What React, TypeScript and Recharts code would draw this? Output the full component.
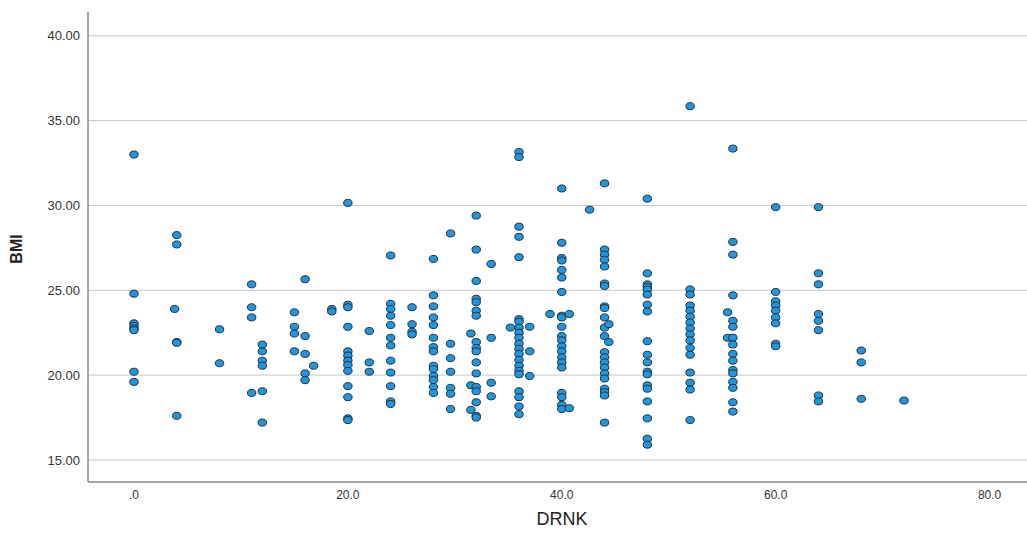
import React from 'react';
import { ScatterChart, Scatter, XAxis, YAxis, ReferenceLine } from 'recharts';

// BMI readings grouped by DRNK value
const bmiAt0 = [33.0, 24.8, 23.05, 22.9, 22.75, 22.65, 20.2, 19.6];
const bmiAt3_8 = [23.9];
const bmiAt4 = [28.25, 27.7, 21.95, 21.9, 17.6];
const bmiAt8 = [22.7, 20.7];
const bmiAt11 = [25.35, 24.0, 23.4, 18.95];
const bmiAt12 = [21.8, 21.4, 20.85, 20.55, 19.05, 17.2];
const bmiAt15 = [23.7, 22.85, 22.45, 21.4];
const bmiAt16 = [25.65, 22.3, 21.25, 20.1, 19.7];
const bmiAt16_8 = [20.55];
const bmiAt18_5 = [23.9, 23.75];
const bmiAt20 = [30.15, 24.15, 24.0, 22.85, 21.4, 21.15, 20.85, 20.6, 20.25, 19.35, 18.7, 17.45, 17.35];
const bmiAt22 = [22.6, 20.75, 20.2];
const bmiAt24 = [27.05, 24.2, 23.9, 23.5, 22.95, 22.2, 21.75, 20.85, 20.15, 19.35, 18.45, 18.3];
const bmiAt26 = [24.0, 23.0, 22.55, 22.4];
const bmiAt28 = [26.85, 24.7, 24.05, 23.4, 22.95, 22.2, 21.65, 21.4, 20.55, 20.35, 19.95, 19.7, 19.3, 18.95];
const bmiAt29_6 = [28.35, 21.85, 21.0, 20.2, 19.25, 18.9, 18.0];
const bmiAt31_5 = [22.45, 19.4, 17.95];
const bmiAt32 = [29.4, 27.4, 25.55, 24.5, 24.3, 23.8, 23.5, 21.95, 21.6, 21.4, 20.75, 20.1, 19.3, 19.05, 18.4, 17.6, 17.5];
const bmiAt33_4 = [26.55, 22.2, 19.55, 18.75];
const bmiAt35_2 = [22.8];
const bmiAt36 = [33.15, 32.85, 28.75, 28.15, 26.95, 23.3, 23.15, 22.8, 22.5, 22.2, 21.85, 21.55, 21.25, 20.9, 20.55, 20.25, 20.05, 19.05, 18.7, 18.15, 17.7];
const bmiAt37 = [22.85, 21.4, 19.95];
const bmiAt38_9 = [23.6];
const bmiAt40 = [31.0, 27.8, 26.9, 26.75, 26.2, 25.75, 24.9, 23.5, 23.4, 22.85, 22.3, 22.05, 21.7, 21.4, 21.05, 20.75, 20.45, 18.95, 18.7, 18.25, 18.0];
const bmiAt40_7 = [23.6, 18.05];
const bmiAt42_6 = [29.75];
const bmiAt44 = [31.3, 27.4, 27.1, 26.8, 26.4, 25.4, 25.25, 24.05, 23.95, 23.4, 22.8, 22.3, 21.35, 21.05, 20.75, 20.45, 20.1, 19.8, 19.2, 19.0, 18.8, 17.2];
const bmiAt44_4 = [23.0, 21.95];
const bmiAt48 = [30.4, 26.0, 25.35, 25.2, 25.05, 24.75, 24.15, 23.75, 22.0, 21.2, 20.75, 20.2, 20.05, 19.4, 19.2, 18.45, 17.45, 16.25, 15.9];
const bmiAt52 = [35.85, 25.05, 24.75, 24.1, 23.8, 23.45, 23.1, 22.75, 22.4, 22.05, 21.6, 21.2, 20.15, 19.55, 19.15, 17.35];
const bmiAt55_5 = [23.7, 22.2];
const bmiAt56 = [33.35, 27.85, 27.1, 24.7, 23.2, 22.85, 22.2, 21.8, 21.25, 20.85, 20.3, 20.1, 19.6, 19.25, 18.4, 17.85];
const bmiAt60 = [29.9, 24.9, 24.35, 24.1, 23.8, 23.4, 23.05, 21.85, 21.7];
const bmiAt64 = [29.9, 26.0, 25.35, 23.6, 23.2, 22.65, 18.8, 18.45];
const bmiAt68 = [21.45, 20.75, 18.6];
const bmiAt72 = [18.5];

const drnkValues = [0, 3.8, 4, 8, 11, 12, 15, 16, 16.8, 18.5, 20, 22, 24, 26, 28, 29.6, 31.5, 32, 33.4, 35.2,
    36, 37, 38.9, 40, 40.7, 42.6, 44, 44.4, 48, 52, 55.5, 56, 60, 64, 68, 72];
const bmiColumns = [bmiAt0, bmiAt3_8, bmiAt4, bmiAt8, bmiAt11, bmiAt12, bmiAt15, bmiAt16, bmiAt16_8, bmiAt18_5,
    bmiAt20, bmiAt22, bmiAt24, bmiAt26, bmiAt28, bmiAt29_6, bmiAt31_5, bmiAt32, bmiAt33_4, bmiAt35_2,
    bmiAt36, bmiAt37, bmiAt38_9, bmiAt40, bmiAt40_7, bmiAt42_6, bmiAt44, bmiAt44_4, bmiAt48, bmiAt52,
    bmiAt55_5, bmiAt56, bmiAt60, bmiAt64, bmiAt68, bmiAt72];

const yTicks = [15, 20, 25, 30, 35, 40];
const xTicks = [0, 20, 40, 60, 80];

const points = drnkValues.flatMap((drnk, i) => bmiColumns[i].map(bmi => ({ drnk, bmi })));

const Dot = (props: any) => {
    const { cx, cy } = props;
    if (cx == null || cy == null) return null;
    return <ellipse cx={cx} cy={cy} rx={4.2} ry={3.5} fill="#2196dc" stroke="#1b2f3f" strokeWidth={1} />;
};

const FONT = '"Liberation Sans", Arial, sans-serif';

export default function App() {
    return (
        <div style={{ position: 'fixed', left: 0, top: 0, width: 1027, height: 536, background: '#fff', fontFamily: FONT }}>
            <ScatterChart width={1027} height={536} margin={{ top: 12, right: 0, bottom: 0, left: 0 }}>
                {yTicks.map(t => (
                    <ReferenceLine key={t} y={t} stroke="#c8c8c8" strokeWidth={1} />
                ))}
                <XAxis
                    type="number"
                    dataKey="drnk"
                    domain={[-4.3, 83.5]}
                    ticks={xTicks}
                    height={54}
                    tickLine={false}
                    axisLine={{ stroke: '#888', strokeWidth: 1.5 }}
                    tick={{ fontSize: 12, fill: '#333', fontFamily: FONT }}
                    tickFormatter={(v: number) => (v === 0 ? '.0' : v.toFixed(1))}
                />
                <YAxis
                    type="number"
                    dataKey="bmi"
                    domain={[13.7, 41.4]}
                    ticks={yTicks}
                    width={88}
                    tickLine={false}
                    axisLine={{ stroke: '#888', strokeWidth: 1.5 }}
                    tick={{ fontSize: 13, fill: '#333', fontFamily: FONT }}
                    tickFormatter={(v: number) => v.toFixed(2)}
                />
                <Scatter data={points} shape={<Dot />} isAnimationActive={false} />
            </ScatterChart>
            <div style={{
                position: 'absolute', left: 17, top: 249, transform: 'translate(-50%, -50%) rotate(-90deg)',
                fontSize: 16, fontWeight: 'bold', color: '#222', lineHeight: 1,
            }}>BMI</div>
            <div style={{
                position: 'absolute', left: 562, top: 519, transform: 'translate(-50%, -50%)',
                fontSize: 18, color: '#222', lineHeight: 1,
            }}>DRNK</div>
        </div>
    );
}
